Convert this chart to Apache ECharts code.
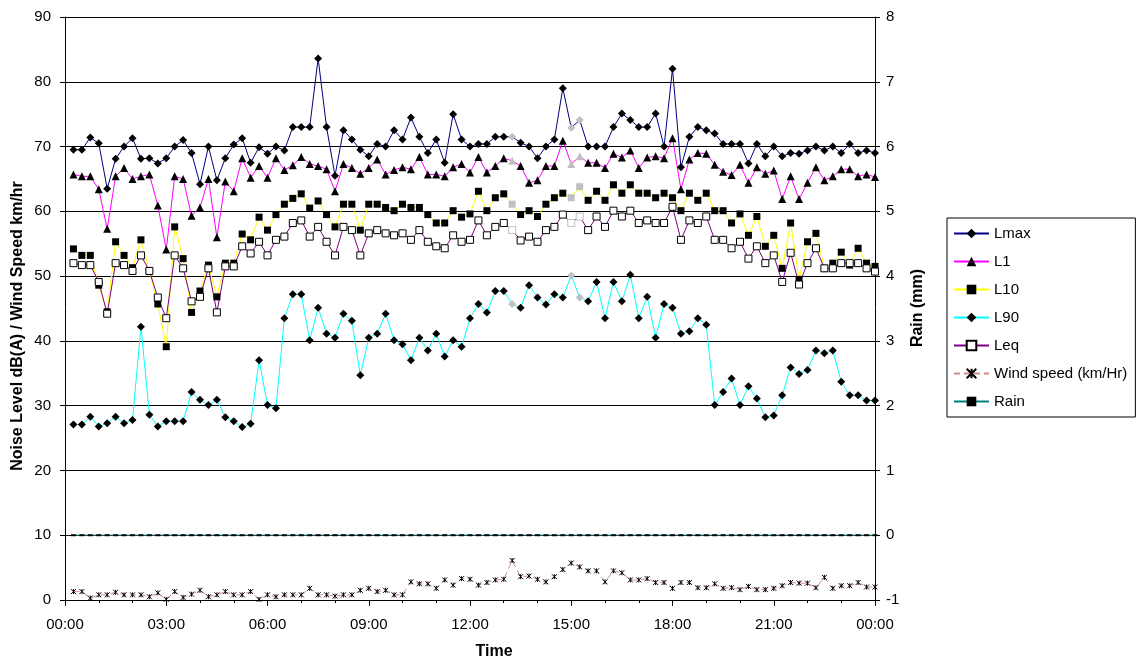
<!DOCTYPE html>
<html>
<head>
<meta charset="utf-8">
<script src="https://cdn.jsdelivr.net/npm/echarts@6/dist/echarts.min.js"></script>
<style>html,body{margin:0;padding:0;background:#fff}#c{width:1141px;height:662px}</style>
</head>
<body>
<div id="c"></div>
<script>
// 15-minute samples, 00:15 ... 24:00
const lmax = [69.5,69.5,71.4,70.5,63.5,68.1,70,71.3,68.1,68.2,67.4,68.2,70,71,69,64.2,
70,64.8,68.2,70.3,71.3,67.5,69.9,68.9,70,69.4,73,73,73,83.6,73,65.5,
72.5,71.1,69.5,68.5,70.4,70,72.5,71.1,74.5,71.5,69,71.1,67.5,75,71.1,70,
70.4,70.4,71.5,71.5,71.5,70.6,70,68.2,70,71.1,79,72.9,74.1,70,70,70,
73,75.1,74.1,73,73,75.1,70,82,66.8,71.5,73,72.5,72,70.4,70.4,70.4,
67.4,70.4,68.5,70,68.5,69,68.9,69.4,70,69.4,70,69,70.4,69,69.4,69];
const l1 = [65.7,65.4,65.4,63.4,57.3,65.4,66.7,65,65.4,65.7,60.9,54.1,65.4,65,59.3,60.6,
65,56,64.6,63.1,68.2,65.2,67,65.2,68.2,66.4,67.1,68.4,67.3,67,66.5,63.1,
67.3,66.7,65.8,66.7,68,65.7,66.4,66.8,66.5,68.4,65.7,65.7,65.4,66.8,67.3,66,
68.4,66,67,68.2,67.8,67,64.4,64.8,67,67,70.9,67.3,68.5,67.5,67.5,66.7,
68.9,68.3,69.4,66.7,68.3,68.5,68.2,71.3,63.4,68,69,68.9,67.2,66.1,65.6,67.2,
64.4,66.8,65.8,66.3,61.9,65.4,61.9,64.4,66.8,64.8,65.4,66.5,66.5,65.4,65.7,65.3];
const l10 = [54.2,53.2,53.2,48.6,44.5,55.3,53.2,51.3,55.6,50.7,45.7,39.1,57.6,52.7,44.4,47.7,
51.7,46.8,52,52,56.5,55.6,59.1,57.1,59.5,61.1,62,62.7,60.5,61.6,59.5,57.6,
61.1,61.1,57.1,61.1,61.1,60.6,60.1,61.1,60.6,60.6,59.5,58.2,58.2,60.1,59.1,59.6,
63.1,60.1,62.1,62.7,61.1,59.5,60.1,59.2,61.1,62.1,62.8,62.1,63.8,61.7,63.1,61.7,
64.1,62.8,64.1,62.8,62.8,62.1,62.8,62.1,60.1,62.8,61.7,62.8,60.1,60.1,58.2,59.6,
56.3,59.2,54.6,56.3,51.2,58.2,49.5,55.3,56.6,51.2,52,53.7,51.7,54.3,52,51.5];
const l90 = [27.1,27.1,28.3,26.8,27.3,28.3,27.3,27.8,42.2,28.6,26.8,27.6,27.6,27.6,32.1,30.9,
30.1,30.9,28.2,27.6,26.7,27.2,37,30.1,29.6,43.5,47.2,47.2,40.1,45.1,41.1,40.5,
44.2,43.1,34.7,40.5,41.1,44.2,40.1,39.5,37,40.5,38.5,41.1,37.6,40.1,39.1,43.5,
45.7,44.4,47.7,47.7,45.7,45.1,48.6,46.7,45.6,47.2,46.7,50.1,46.7,46.1,49.1,43.5,
49.1,46.1,50.2,43.5,46.8,40.5,45.7,45.1,41.1,41.5,43.5,42.5,30.1,32.1,34.2,30.1,
33,31.1,28.2,28.5,31.6,35.9,34.9,35.5,38.5,38.1,38.5,33.7,31.6,31.6,30.8,30.8];
const leq = [52,51.7,51.7,49.1,44.2,52,51.7,50.8,53.2,50.8,46.7,43.5,53.2,51.2,46.1,46.8,
51.2,44.4,51.5,51.5,54.6,53.5,55.3,53.2,55.6,56.1,58.2,58.6,56.1,57.6,55.3,53.2,
57.6,57.1,53.2,56.6,57.1,56.6,56.3,56.6,55.6,57.1,55.3,54.6,54.3,56.3,55.3,55.6,
58.6,56.3,57.6,58.2,57.1,55.5,56.1,55.3,57.1,57.6,59.5,58.2,59.2,57.1,59.2,57.6,
60.1,59.2,60.1,58.2,58.6,58.2,58.2,60.7,55.6,58.6,58.2,59.2,55.6,55.6,54.3,55.3,
52.7,54.6,52,53.2,49.1,53.6,48.7,52,54.3,51.2,51.2,52,52,52,51.2,50.7];
const wind = [1.3,1.3,0.3,0.8,0.8,1.2,0.8,0.8,0.8,0.5,1.1,0.1,1.3,0.4,0.9,1.5,
0.5,0.8,1.3,0.8,0.8,1.3,0.1,0.8,0.5,0.8,0.8,0.8,1.8,0.8,0.8,0.6,
0.8,0.8,1.5,1.8,1.3,1.5,0.8,0.8,2.8,2.5,2.5,1.8,3.1,2.3,3.3,3.2,
2.3,2.7,3.1,3.2,6.1,3.6,3.7,3.2,2.8,3.6,4.7,5.7,5.1,4.5,4.5,2.8,
4.5,4.2,3.1,3.1,3.3,2.7,2.7,1.8,2.7,2.7,1.9,1.9,2.5,1.8,1.9,1.6,
2.1,1.6,1.6,1.8,2.2,2.7,2.6,2.6,1.9,3.5,1.8,2.2,2.2,2.7,2.0,2.0];
const rain = [0,0,0,0,0,0,0,0,0,0,0,0,0,0,0,0,
0,0,0,0,0,0,0,0,0,0,0,0,0,0,0,0,
0,0,0,0,0,0,0,0,0,0,0,0,0,0,0,0,
0,0,0,0,0,0,0,0,0,0,0,0,0,0,0,0,
0,0,0,0,0,0,0,0,0,0,0,0,0,0,0,0,
0,0,0,0,0,0,0,0,0,0,0,0,0,0,0,0];
// samples drawn with grey markers (1-based sample number)
const greySamples = [53, 60, 61];
const xTickLabels = ['00:00','03:00','06:00','09:00','12:00','15:00','18:00','21:00','00:00'];
const sampleStepMin = 15;

const FONT = 'Liberation Sans, Arial, sans-serif';
const GREY = '#c0c0c0';

function build(vals, greyStyle) {
  return vals.map((v, k) => {
    const d = { value: [(k + 1) * sampleStepMin, v] };
    if (greyStyle && greySamples.indexOf(k + 1) >= 0) d.itemStyle = greyStyle;
    return d;
  });
}
function lineSeries(name, vals, opts) {
  return Object.assign({
    name: name, type: 'line', data: build(vals, opts.grey),
    symbol: opts.symbol, symbolSize: opts.size,
    lineStyle: Object.assign({ color: opts.line, width: 1 }, opts.lineExtra || {}),
    itemStyle: opts.item,
    emphasis: { disabled: true },
    animation: false
  }, opts.extra || {});
}

const chart = echarts.init(document.getElementById('c'), null, { renderer: 'canvas' });
const option = {
  animation: false,
  backgroundColor: '#fff',
  grid: { left: 65, right: 266, top: 17, bottom: 62 },
  xAxis: {
    type: 'value', min: 0, max: 1440, interval: 180,
    axisLine: { show: true, onZero: false, lineStyle: { color: '#000', width: 1 } },
    axisTick: { show: true, length: 6, lineStyle: { color: '#000' } },
    minorTick: { show: true, splitNumber: 3, length: 3, lineStyle: { color: '#000' } },
    splitLine: { show: false },
    axisLabel: { formatter: v => xTickLabels[Math.round(v / 180)], fontSize: 15, color: '#000', fontFamily: FONT, margin: 17 }
  },
  yAxis: [
    {
      type: 'value', min: 0, max: 90, interval: 10, position: 'left',
      axisLine: { show: true, lineStyle: { color: '#000', width: 1 } },
      axisTick: { show: true, length: 5, lineStyle: { color: '#000' } },
      splitLine: { show: true, lineStyle: { color: '#000', width: 1 } },
      axisLabel: { fontSize: 15, color: '#000', fontFamily: FONT, margin: 14 }
    },
    {
      type: 'value', min: -1, max: 8, interval: 1, position: 'right',
      axisLine: { show: true, lineStyle: { color: '#000', width: 1 } },
      axisTick: { show: true, length: 5, lineStyle: { color: '#000' } },
      splitLine: { show: false },
      axisLabel: { fontSize: 15, color: '#000', fontFamily: FONT, margin: 11 }
    }
  ],
  legend: {
    orient: 'vertical', left: 947, top: 218,
    padding: [8, 8, 8, 6],
    borderColor: '#000', borderWidth: 1,
    itemWidth: 35, itemHeight: 12, itemGap: 13,
    textStyle: { fontSize: 15, color: '#000', fontFamily: FONT, lineHeight: 15 },
    data: ['Lmax', 'L1', 'L10', 'L90', 'Leq', 'Wind speed (km/Hr)', 'Rain']
  },
  series: [
    lineSeries('Lmax', lmax, { symbol: 'diamond', size: 8, line: '#000080', item: { color: '#000' }, grey: { color: GREY } }),
    lineSeries('L1', l1, { symbol: 'triangle', size: 8, line: '#ff00ff', item: { color: '#000' }, grey: { color: GREY } }),
    lineSeries('L10', l10, { symbol: 'rect', size: 7, line: '#ffff00', item: { color: '#000' }, grey: { color: GREY } }),
    lineSeries('L90', l90, { symbol: 'diamond', size: 8, line: '#00ffff', item: { color: '#000' }, grey: { color: GREY } }),
    lineSeries('Leq', leq, { symbol: 'rect', size: 7, line: '#800080', item: { color: '#fff', borderColor: '#000', borderWidth: 1 }, grey: { color: '#fff', borderColor: GREY, borderWidth: 1 } }),
    lineSeries('Wind speed (km/Hr)', wind, { symbol: 'path://M0,0L6,6M6,0L0,6M3,0L3,6', size: 5, line: '#b04040', lineExtra: { type: [6, 4], opacity: 0.6 }, item: { color: '#000', borderColor: '#000', borderWidth: 1 } }),
    lineSeries('Rain', rain, { symbol: 'rect', size: [5, 2], line: '#008080', item: { color: '#000' }, extra: { yAxisIndex: 1 } })
  ],
  graphic: [
    { type: 'text', x: 18, y: 326, rotation: Math.PI / 2,
      style: { text: 'Noise Level dB(A) / Wind Speed km/hr', font: 'bold 16px ' + FONT, fill: '#000', textAlign: 'center', textVerticalAlign: 'middle', align: 'center', verticalAlign: 'middle' } },
    { type: 'text', x: 918, y: 308, rotation: Math.PI / 2,
      style: { text: 'Rain (mm)', font: 'bold 16px ' + FONT, fill: '#000', textAlign: 'center', textVerticalAlign: 'middle', align: 'center', verticalAlign: 'middle' } },
    { type: 'text', x: 494, y: 652,
      style: { text: 'Time', font: 'bold 16px ' + FONT, fill: '#000', textAlign: 'center', textVerticalAlign: 'middle', align: 'center', verticalAlign: 'middle' } }
  ]
};
chart.setOption(option);
</script>
</body>
</html>
